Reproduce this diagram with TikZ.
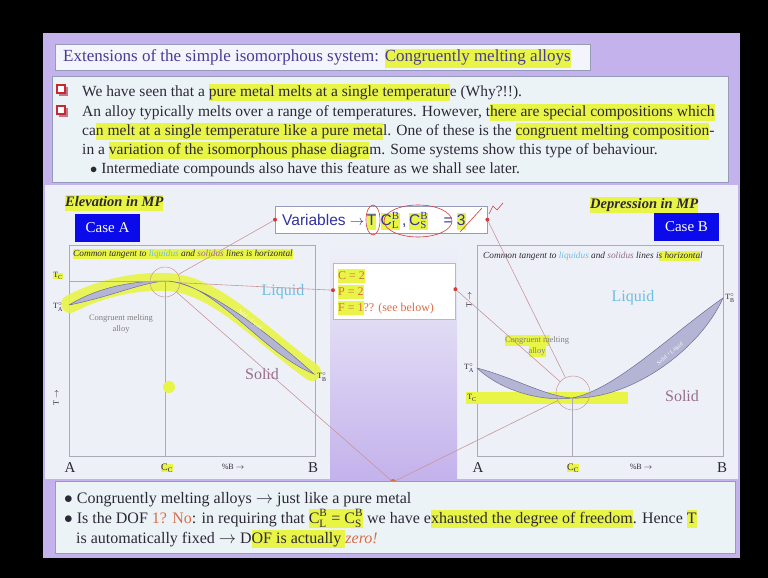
\documentclass[tikz,border=0pt]{standalone}
\usepackage{fontspec}
\setmainfont{Liberation Serif}
\newfontfamily\arialfont{Liberation Sans}
\usetikzlibrary{positioning}

\definecolor{slidepurple}{RGB}{196,178,236}
\definecolor{titlefill}{RGB}{244,244,252}
\definecolor{boxfill}{RGB}{236,243,247}
\definecolor{panelfill}{RGB}{238,240,248}
\definecolor{framegrey}{RGB}{150,155,185}
\definecolor{titletext}{RGB}{72,60,150}
\definecolor{bodytext}{RGB}{45,40,55}
\definecolor{hlyellow}{RGB}{232,244,70}
\definecolor{caseblue}{RGB}{10,10,235}
\definecolor{varblue}{RGB}{50,50,160}
\definecolor{pinred}{RGB}{210,60,60}
\definecolor{penline}{RGB}{200,150,155}
\definecolor{lensfill}{RGB}{180,180,212}
\definecolor{lensedge}{RGB}{110,110,150}
\definecolor{liquidblue}{RGB}{110,190,225}
\definecolor{solidmauve}{RGB}{150,110,140}
\definecolor{orangetext}{RGB}{215,110,70}
\definecolor{bulletred}{RGB}{200,40,50}
\definecolor{bulletshadow}{RGB}{190,120,140}
\definecolor{salmon}{RGB}{230,170,150}
\definecolor{axisgrey}{RGB}{170,170,185}

\newcommand\hl[1]{{\setlength{\fboxsep}{0pt}\colorbox{hlyellow}{\strut #1}}}

\begin{document}
\begin{tikzpicture}[x=1pt,y=-1pt,
    txt/.style={anchor=base west,inner sep=0pt,text=bodytext,font=\fontsize{15.5}{17}\selectfont},
    frame/.style={draw=framegrey,anchor=north west,inner sep=0pt},
    casebox/.style={fill=caseblue,text=white,minimum width=65pt,minimum height=28pt,inner sep=0pt,font=\fontsize{15}{17}\selectfont},
    plotbox/.style={draw=axisgrey,fill=panelfill,anchor=north west,inner sep=0pt,line width=0.6pt},
    lens/.style={fill=lensfill,draw=lensedge,line width=0.5pt},
    marker/.style={circle,fill=pinred,inner sep=0pt,minimum size=4pt},
    pen/.style={draw=penline,line width=0.6pt},
    tiny/.style={inner sep=0pt,font=\fontsize{8}{9}\selectfont,text=bodytext},
    axislbl/.style={inner sep=0pt,font=\fontsize{15}{17}\selectfont,text=bodytext}]
\useasboundingbox (0,0) rectangle (768,578);
\fill[black] (0,0) rectangle (768,578);
\fill[slidepurple] (43,33) rectangle (740,558);

% title
\node[frame,fill=titlefill,minimum width=535pt,minimum height=26pt] (titlebox) at (55,44) {};
\node[txt,text=titletext,font=\fontsize{17}{19}\selectfont] (title) at (63,62)
  {Extensions of the simple isomorphous system: \hl{Congruently melting alloys}};

% bullets on top
\node[frame,fill=boxfill,minimum width=676pt,minimum height=106pt] (bulletbox) at (52,76) {};
\foreach \y in {90,111} {
  \fill[bulletshadow] (59,\y-3) rectangle +(9,9);
  \draw[bulletred,fill=white,line width=1.2pt] (57,\y-5) rectangle +(8,8);
}
\node[txt] (l1) at (82,96) {We have seen that a \hl{pure metal melts at a single temperatur}e (Why?!!).};
\node[txt] (l2) at (82,116) {An alloy typically melts over a range of temperatures. However, t\hl{here are special compositions which}};
\node[txt] (l3) at (82,135) {ca\hl{n melt at a single temperature like a pure meta}l. One of these is the \hl{congruent melting composition}-};
\node[txt] (l4) at (82,154) {in a \hl{variation of the isomorphous phase diagra}m. Some systems show this type of behaviour.};
\node[txt] (l5) at (90,173) {$\bullet$ Intermediate compounds also have this feature as we shall see later.};

% middle area
\fill[panelfill] (45,185) rectangle (738,479);
\shade[top color=panelfill,bottom color=slidepurple] (330,245) rectangle (457,479);

\node[txt,font=\fontsize{14.5}{16}\selectfont\bfseries\itshape] (elev) at (65,206) {\hl{Elevation in MP}};
\node[casebox] (caseA) at (107.5,228) {Case A};
\node[txt,font=\fontsize{14.5}{16}\selectfont\bfseries\itshape] (depr) at (590,208) {\hl{Depression in MP}};
\node[casebox] (caseB) at (686.5,226.5) {Case B};

% variables
\node[frame,fill=white,minimum width=212pt,minimum height=27pt] (varbox) at (275,206) {};
\node[txt,text=varblue,font=\arialfont\fontsize{15.5}{17}\selectfont] (vartext) at (282,225)
  {Variables $\rightarrow$\,\hl{T}\;\hl{C$_\mathrm{L}^\mathrm{B}$}\,,\,\hl{C$_\mathrm{S}^\mathrm{B}$}\quad=\;\hl{3}};
\draw[pinred,line width=0.6pt] (373,220) ellipse (7 and 15);
\draw[pinred,line width=0.6pt] (418,221) ellipse (34 and 16);
\draw[pinred,line width=0.6pt] (460,232) -- (482,208);
\draw[pinred,line width=0.6pt] (489,214) -- (493,206) -- (497,210) -- (503,203);

% degrees of freedom
\node[frame,draw=salmon,fill=white,minimum width=122pt,minimum height=56pt] (dofbox) at (333,263) {};
\node[txt,text=orangetext,font=\fontsize{12}{14}\selectfont] (dofC) at (338,279) {\hl{C = 2}};
\node[txt,text=orangetext,font=\fontsize{12}{14}\selectfont] (dofP) at (338,295) {\hl{P = 2}};
\node[txt,text=orangetext,font=\fontsize{12}{14}\selectfont] (dofF) at (338,311) {\hl{F = 1}?? (see below)};

% plot A: maximum
\node[plotbox,minimum width=246pt,minimum height=211pt] (plotA) at (69,245) {};
\node[tiny,anchor=base west,font=\fontsize{9.3}{10}\selectfont\itshape] (tanA) at (73,256)
  {\hl{Common tangent to {\color{liquidblue}liquidus} and {\color{solidmauve}solidus} lines is horizontal}};
\draw[hlyellow,line width=18pt,line cap=round,opacity=0.9]
  (70,304) .. controls (105,286) and (140,281) .. (165,282) .. controls (215,283) and (260,335) .. (312,372);
\draw[lens] (69,305) .. controls (100,286) and (135,281) .. (165,281)
  .. controls (140,283) and (110,297) .. (69,305);
\draw[lens] (165,281) .. controls (200,281) and (265,330) .. (314,374)
  .. controls (260,352) and (215,281) .. (165,281);
\node[rotate=-40,font=\fontsize{5}{6}\selectfont,text=white] (slA) at (250,320) {Solid + Liquid};
\draw[axisgrey,line width=0.4pt] (69,281) -- (165,281) -- (165,456);
\fill[hlyellow] (169,387) circle (6);
\node[circle,draw=penline,line width=0.5pt,minimum size=30pt,inner sep=0pt] (congA) at (165,282) {};
\node[tiny,fill=hlyellow] (TcA) at (58,276) {T$_\mathrm{C}$};
\node[tiny] (TaA) at (58,307) {T$_\mathrm{A}^\circ$};
\node[tiny] (TbA) at (322,377) {T$_\mathrm{B}^\circ$};
\node[tiny,rotate=90] (TaxA) at (56,398) {T $\rightarrow$};
\node[tiny,align=center,text=gray,font=\fontsize{8.5}{11}\selectfont] (cmaA) at (121,324) {Congruent melting\\alloy};
\node[axislbl,text=liquidblue,font=\fontsize{16}{18}\selectfont] (liqA) at (283,292) {Liquid};
\node[axislbl,text=solidmauve,font=\fontsize{16}{18}\selectfont] (solA) at (262,374) {Solid};
\node[axislbl] (aA) at (70,468) {A};
\node[tiny,font=\fontsize{10}{12}\selectfont,fill=hlyellow] (ccA) at (167,468) {C$_\mathrm{C}$};
\node[tiny] (pbA) at (233,467) {\%B $\rightarrow$};
\node[axislbl] (bA) at (313,468) {B};

% plot B: minimum
\node[plotbox,minimum width=246pt,minimum height=211pt] (plotB) at (477,245) {};
\node[tiny,anchor=base west,font=\fontsize{9.3}{10}\selectfont\itshape] (tanB) at (483,258)
  {Common tangent to {\color{liquidblue}liquidus} and {\color{solidmauve}solidus} lines i\hl{s horizonta}l};
\fill[hlyellow] (466,392) rectangle (628,404);
\draw[lens] (477,368) .. controls (515,378) and (545,396) .. (572,398)
  .. controls (540,402) and (500,390) .. (477,368);
\draw[lens] (572,398) .. controls (615,390) and (670,335) .. (723,298)
  .. controls (700,350) and (630,400) .. (572,398);
\node[rotate=40,font=\fontsize{5.5}{6}\selectfont,text=white] (slB) at (670,354) {Solid + Liquid};
\draw[axisgrey,line width=0.4pt] (572,398) -- (572,456);
\node[circle,draw=penline,line width=0.5pt,minimum size=34pt,inner sep=0pt] (congB) at (573,393) {};
\node[tiny] (TcB) at (472,398) {T$_\mathrm{C}$};
\node[tiny] (TaB) at (469,368) {T$_\mathrm{A}^\circ$};
\node[tiny] (TbB) at (730,298) {T$_\mathrm{B}^\circ$};
\node[tiny,rotate=90] (TaxB) at (469,300) {T $\rightarrow$};
\node[tiny,align=center,text=gray,font=\fontsize{8.5}{11}\selectfont] (cmaB) at (537,346) {\hl{Congruent m}elting\\\hl{alloy}};
\node[axislbl,text=liquidblue,font=\fontsize{16}{18}\selectfont] (liqB) at (633,298) {Liquid};
\node[axislbl,text=solidmauve,font=\fontsize{16}{18}\selectfont] (solB) at (682,396) {Solid};
\node[axislbl] (aB) at (478,468) {A};
\node[tiny,font=\fontsize{10}{12}\selectfont,fill=hlyellow] (ccB) at (573,468) {C$_\mathrm{C}$};
\node[tiny] (pbB) at (641,467) {\%B $\rightarrow$};
\node[axislbl] (bB) at (722,468) {B};

% pen connectors
\node[marker] (varW) at (varbox.west) {};
\node[marker] (varE) at (varbox.east) {};
\node[marker] (dofW) at ([yshift=1pt]dofbox.west) {};
\node[marker] (dofE) at ([yshift=2pt]dofbox.east) {};
\coordinate (meet) at (393,482);
\draw[pen] (varW) -- (congA);
\draw[pen] (dofW) -- (congA);
\draw[pen] (varE) -- (congB);
\draw[pen] (dofE) -- (congB);
\draw[pen] (congA) -- (meet) -- (congB);
\fill[orangetext] (meet) circle (3);

% bottom bullets
\node[frame,fill=boxfill,minimum width=680pt,minimum height=72pt] (bottombox) at (55,481) {};
\node[txt,font=\fontsize{16}{18}\selectfont] (b1) at (64,503) {$\bullet$ Congruently melting alloys $\rightarrow$ just like a pure metal};
\node[txt,font=\fontsize{16}{18}\selectfont] (b2) at (64,523) {$\bullet$ Is the DOF {\color{orangetext}1? No}: in requiring that \hl{C$_\mathrm{L}^\mathrm{B}$ = C$_\mathrm{S}^\mathrm{B}$} we have e\hl{xhausted the degree of freedom}. Hence \hl{T}};
\node[txt,font=\fontsize{16}{18}\selectfont] (b3) at (76,543) {is automatically fixed $\rightarrow$ D\hl{OF is actually }{\color{orangetext}\itshape zero!}};
\end{tikzpicture}
\end{document}
